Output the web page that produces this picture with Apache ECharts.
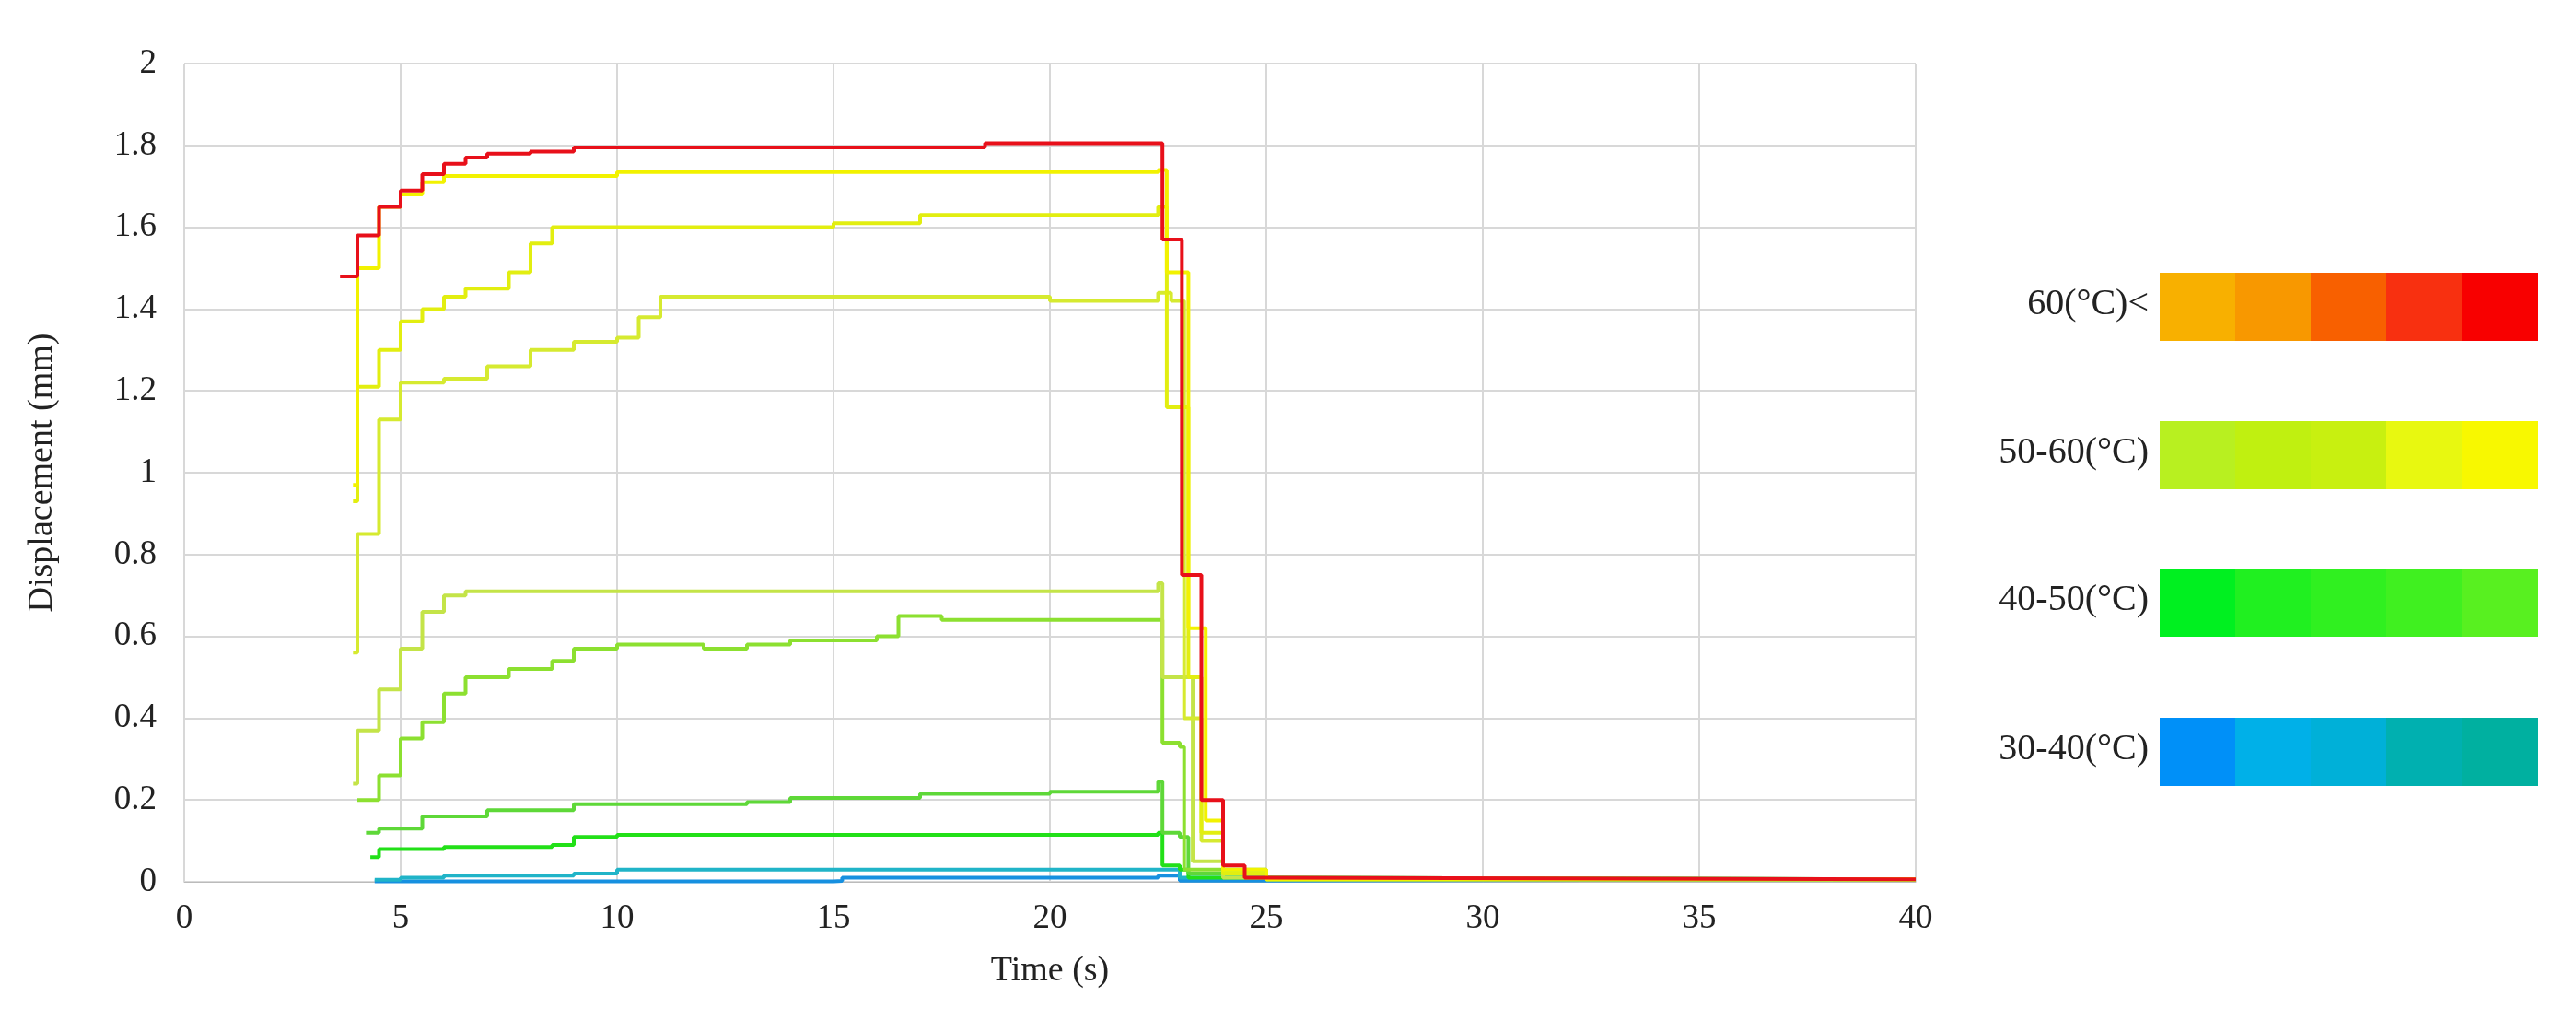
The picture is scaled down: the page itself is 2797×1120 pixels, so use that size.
<!DOCTYPE html>
<html><head><meta charset="utf-8">
<script src="https://cdn.jsdelivr.net/npm/echarts@6/dist/echarts.min.js"></script>
<style>html,body{margin:0;background:#fff}#c{width:2797px;height:1120px}</style>
</head><body><div id="c"></div>
<script>
const xTicks=[0,5,10,15,20,25,30,35,40];
const yTicks=[0,0.2,0.4,0.6,0.8,1,1.2,1.4,1.6,1.8,2];
const tail=[[25,0.006],[40,0.005]];
const s1=[[3.6,1.48],[4.0,1.58],[4.5,1.65],[5,1.69],[5.5,1.73],[6,1.755],[6.5,1.77],[7,1.78],[8,1.785],[9,1.795],[18.5,1.805],[22.5,1.805],[22.6,1.57],[23.0,1.57],[23.05,0.75],[23.4,0.75],[23.5,0.2],[23.9,0.2],[24.0,0.04],[24.4,0.04],[24.5,0.01]];
const s2=[[3.9,0.97],[4.0,1.5],[4.5,1.65],[5,1.68],[5.5,1.71],[6,1.725],[10,1.735],[22.5,1.74],[22.7,1.49],[23.0,1.49],[23.2,0.62],[23.6,0.15],[24,0.03]];
const s3=[[3.9,0.93],[4.0,1.21],[4.5,1.3],[5,1.37],[5.5,1.40],[6,1.43],[6.5,1.45],[7.5,1.49],[8,1.56],[8.5,1.60],[15,1.61],[17,1.63],[22.5,1.65],[22.7,1.16],[23,1.16],[23.2,0.5],[23.5,0.12],[24,0.02]];
const s4=[[3.9,0.56],[4.0,0.85],[4.5,1.13],[5,1.22],[6,1.23],[7,1.26],[8,1.30],[9,1.32],[10,1.33],[10.5,1.38],[11,1.43],[20,1.42],[22.5,1.44],[22.8,1.42],[23.1,0.4],[23.5,0.1],[24,0.02]];
const s5=[[3.9,0.24],[4.0,0.37],[4.5,0.47],[5,0.57],[5.5,0.66],[6,0.70],[6.5,0.71],[21,0.71],[22.5,0.73],[22.6,0.5],[23.2,0.5],[23.3,0.05],[24,0.01]];
const s6=[[4,0.2],[4.5,0.26],[5,0.35],[5.5,0.39],[6,0.46],[6.5,0.50],[7.5,0.52],[8.5,0.54],[9,0.57],[10,0.58],[12,0.57],[13,0.58],[14,0.59],[16,0.60],[16.5,0.65],[17.5,0.64],[22.5,0.64],[22.6,0.34],[23,0.33],[23.1,0.03]];
const s7=[[4.2,0.12],[4.5,0.13],[5.5,0.16],[7,0.175],[9,0.19],[13,0.195],[14,0.205],[17,0.215],[20,0.22],[22.5,0.245],[22.6,0.12],[23,0.11],[23.2,0.02]];
const s8=[[4.3,0.06],[4.5,0.08],[6,0.085],[8.5,0.09],[9,0.11],[10,0.115],[22.5,0.12],[22.6,0.04],[23,0.03],[23.2,0.01]];
const s9=[[4.4,0.005],[5,0.01],[6,0.015],[9,0.02],[10,0.03],[22.5,0.03],[23,0.01]];
const s10=[[4.4,0.001],[15,0.002],[15.2,0.01],[22.5,0.015],[23,0.003]];
const seriesData=[s1,s2,s3,s4,s5,s6,s7,s8,s9,s10];
const seriesColors=['#e8101a','#f2f200','#e2ee10','#d6ea30','#c4e448','#8ce030','#5ed838','#22e018','#20b4c8','#1690e0'];
const legendLabels=['60(°C)<','50-60(°C)','40-50(°C)','30-40(°C)'];
const legendColors=[['#f8b000','#f89800','#f86000','#f83010','#f80000'],['#b8f020','#c0f010','#c8f010','#e8f810','#f8f800'],['#00f020','#20f020','#30f020','#40f020','#58f020'],['#0090f8','#00b0e8','#00b0d8','#00b0b0','#00b0a0']];
const legendTops=[296,457,617,779];
const F='Liberation Serif';
const graphic=[];
legendLabels.forEach((l,i)=>{
  legendColors[i].forEach((c,j)=>graphic.push({type:'rect',left:2345+j*82,top:legendTops[i],shape:{width:83,height:74},style:{fill:c}}));
  graphic.push({type:'text',right:2797-2333,top:legendTops[i]+14,style:{text:l,font:'40px '+F,fill:'#222',textAlign:'right'}});
});
const chart=echarts.init(document.getElementById('c'));
chart.setOption({
  animation:false,
  grid:{left:200,right:717,top:69,bottom:163},
  xAxis:{type:'value',min:0,max:40,interval:5,name:'Time (s)',nameLocation:'middle',nameGap:78,
    nameTextStyle:{fontFamily:F,fontSize:38,color:'#222'},
    axisLabel:{fontFamily:F,fontSize:37,color:'#222',margin:22},
    axisLine:{lineStyle:{color:'#bbb'}},axisTick:{show:false},
    splitLine:{show:true,lineStyle:{color:'#d8d8d8',width:2}}},
  yAxis:{type:'value',min:0,max:2,interval:0.2,name:'Displacement (mm)',nameLocation:'middle',nameGap:135,
    nameTextStyle:{fontFamily:F,fontSize:38,color:'#222'},
    axisLabel:{fontFamily:F,fontSize:37,color:'#222',margin:30,formatter:v=>String(+v.toFixed(1))},
    axisLine:{show:false},axisTick:{show:false},
    splitLine:{lineStyle:{color:'#d8d8d8',width:2}}},
  graphic:graphic,
  series:seriesData.map((d,i)=>({type:'line',step:'end',showSymbol:false,data:d.concat(tail),
    lineStyle:{color:seriesColors[i],width:4},itemStyle:{color:seriesColors[i]},z:20-i}))
});
</script></body></html>
